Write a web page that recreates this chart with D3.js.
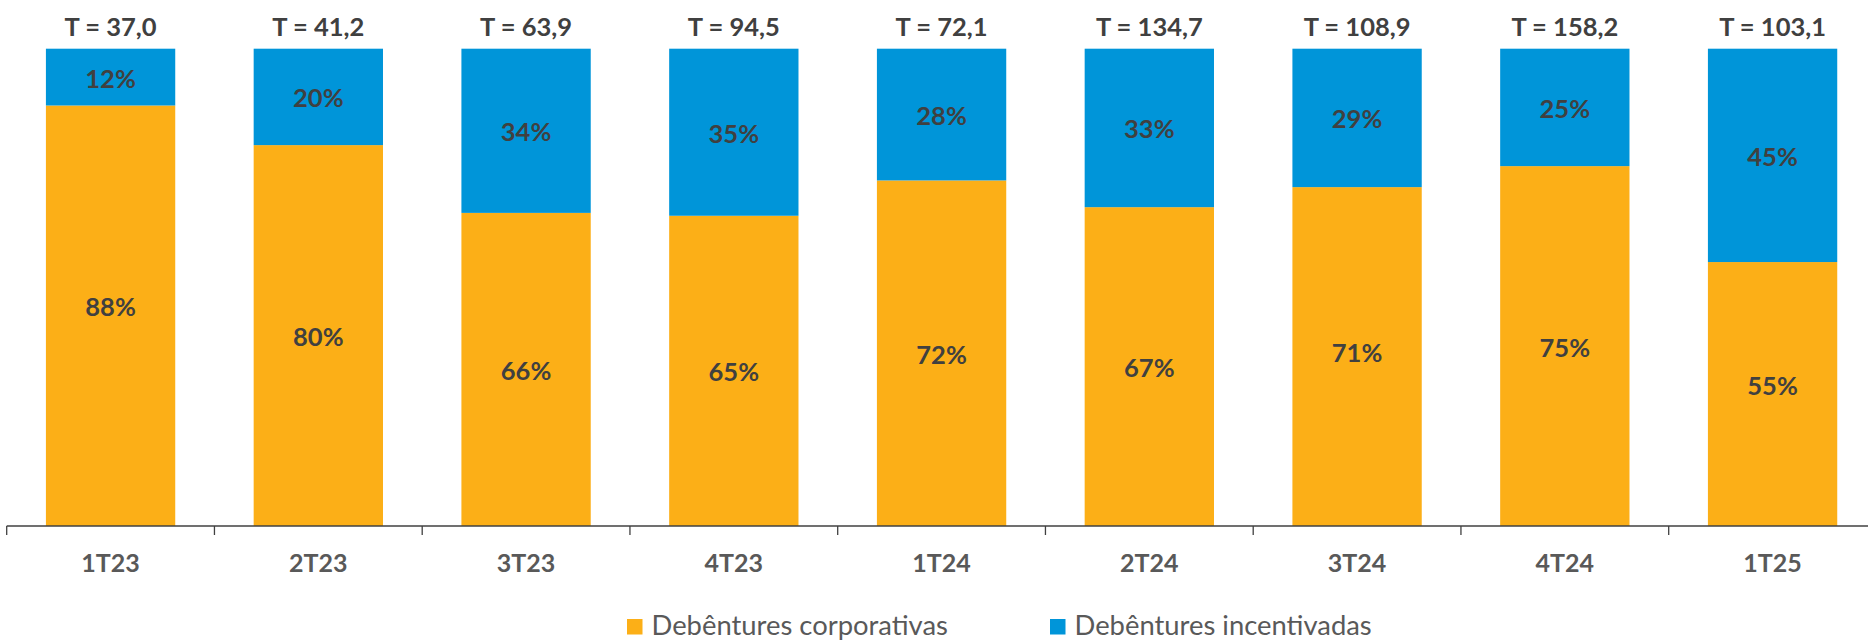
<!DOCTYPE html>
<html>
<head>
<meta charset="utf-8">
<script src="https://cdn.jsdelivr.net/npm/d3@7"></script>
<style>
  html, body { margin: 0; padding: 0; background: #fff; }
  svg { display: block; }
  text { font-family: Lato, "Open Sans", sans-serif; }
</style>
</head>
<body>
<svg id="chart" width="1868" height="640"></svg>
<script>
const categories = ["1T23", "2T23", "3T23", "4T23", "1T24", "2T24", "3T24", "4T24", "1T25"];
const totals = ["37,0", "41,2", "63,9", "94,5", "72,1", "134,7", "108,9", "158,2", "103,1"];
const corporativas = [88.1, 79.8, 65.6, 65.0, 72.4, 66.8, 71.0, 75.4, 55.3];
const incentivadas = [11.9, 20.2, 34.4, 35.0, 27.6, 33.2, 29.0, 24.6, 44.7];
const corpLabels = ["88%", "80%", "66%", "65%", "72%", "67%", "71%", "75%", "55%"];
const incLabels = ["12%", "20%", "34%", "35%", "28%", "33%", "29%", "25%", "45%"];
const seriesNames = ["Debêntures corporativas", "Debêntures incentivadas"];
// small manual label shifts seen in the original (px)
const corpLabelNudge = [-10, 0, 0, 0, 0, 0, -5, 0, -10];

const colors = { corp: "#FCAF17", inc: "#0095D9" };
const svg = d3.select("#chart");

const x0 = 6.7, step = 207.75;
const x = d3.scaleBand().domain(categories).range([x0, x0 + step * categories.length]).padding(0);
const y = d3.scaleLinear().domain([0, 100]).range([526, 48.7]);
const barW = x.bandwidth() * 0.6225;

const data = categories.map((c, i) => ({
  cat: c, total: totals[i],
  corp: corporativas[i], inc: incentivadas[i],
  corpLabel: corpLabels[i], incLabel: incLabels[i], nudge: corpLabelNudge[i]
}));

const g = svg.append("g");
const bars = g.selectAll("g.bar").data(data).join("g").attr("class", "bar");
const bx = d => x(d.cat) + (x.bandwidth() - barW) / 2;
const cx = d => x(d.cat) + x.bandwidth() / 2;

bars.append("rect")
  .attr("x", bx).attr("width", barW)
  .attr("y", d => y(d.corp)).attr("height", d => y(0) - y(d.corp))
  .attr("fill", colors.corp);
bars.append("rect")
  .attr("x", bx).attr("width", barW)
  .attr("y", d => y(d.corp + d.inc)).attr("height", d => y(d.corp) - y(d.corp + d.inc))
  .attr("fill", colors.inc);

const fs = 25.5;
bars.append("text")
  .attr("x", cx).attr("y", d => (y(0) + y(d.corp)) / 2 + 10.5 + d.nudge)
  .attr("text-anchor", "middle").attr("font-size", fs).attr("font-weight", 700)
  .attr("fill", "#404040").text(d => d.corpLabel);
bars.append("text")
  .attr("x", cx).attr("y", d => (y(d.corp) + y(d.corp + d.inc)) / 2 + 10.5)
  .attr("text-anchor", "middle").attr("font-size", fs).attr("font-weight", 700)
  .attr("fill", "#404040").text(d => d.incLabel);
bars.append("text")
  .attr("x", cx).attr("y", 36)
  .attr("text-anchor", "middle").attr("font-size", fs).attr("font-weight", 700)
  .attr("fill", "#404040").text(d => "T = " + d.total);

const axisY = y(0);
g.append("line").attr("x1", x0).attr("x2", 1868).attr("y1", axisY).attr("y2", axisY)
  .attr("stroke", "#404040").attr("stroke-width", 1.3);
const tickXs = categories.map(c => x(c)).concat([x.range()[1]]);
g.selectAll("line.tick").data(tickXs).join("line").attr("class", "tick")
  .attr("x1", d => d).attr("x2", d => d).attr("y1", axisY).attr("y2", axisY + 9)
  .attr("stroke", "#404040").attr("stroke-width", 1.3);
g.selectAll("text.cat").data(categories).join("text").attr("class", "cat")
  .attr("x", d => x(d) + x.bandwidth() / 2).attr("y", 571.7)
  .attr("text-anchor", "middle").attr("font-size", 25).attr("font-weight", 700)
  .attr("fill", "#595959").text(d => d);

const legendX = [627, 1050];
const leg = svg.selectAll("g.leg").data(seriesNames).join("g").attr("class", "leg")
  .attr("transform", (d, i) => `translate(${legendX[i]},0)`);
leg.append("rect").attr("x", 0).attr("y", 619).attr("width", 15.5).attr("height", 15.5)
  .attr("fill", (d, i) => i === 0 ? colors.corp : colors.inc);
leg.append("text").attr("x", 24.5).attr("y", 635).attr("font-size", 27.4)
  .attr("fill", "#595959").text(d => d);
</script>
</body>
</html>
